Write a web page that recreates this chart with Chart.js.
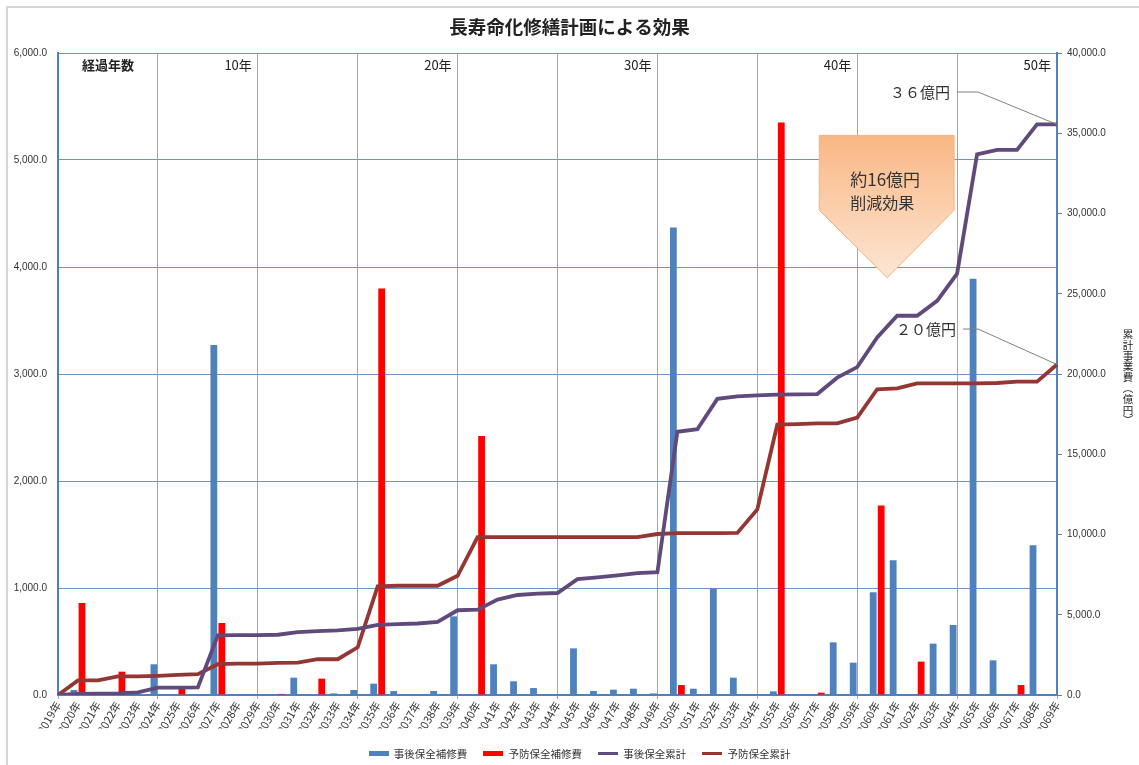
<!DOCTYPE html>
<html><head><meta charset="utf-8">
<script src="https://cdn.jsdelivr.net/npm/chart.js@4.4.0/dist/chart.umd.min.js"></script>
<style>html,body{margin:0;padding:0;background:#fff;}#wrap{width:1139px;height:765px;}</style>
</head><body><div id="wrap"><canvas id="c" width="1139" height="765"></canvas></div>
<script>
const categories = ['2019年','2020年','2021年','2022年','2023年','2024年','2025年','2026年','2027年','2028年',
'2029年','2030年','2031年','2032年','2033年','2034年','2035年','2036年','2037年','2038年',
'2039年','2040年','2041年','2042年','2043年','2044年','2045年','2046年','2047年','2048年',
'2049年','2050年','2051年','2052年','2053年','2054年','2055年','2056年','2057年','2058年',
'2059年','2060年','2061年','2062年','2063年','2064年','2065年','2066年','2067年','2068年','2069年'];

// 事後保全補修費 (left axis)
const afterRepair = [0,47,0,0,0,287,0,0,3270,0,
0,0,162,0,15,47,106,37,0,37,
735,0,287,128,65,0,436,37,50,59,
15,4370,59,995,162,0,34,0,0,492,
302,960,1260,0,480,654,3890,324,0,1400,0];

// 予防保全補修費 (left axis)
const preventRepair = [0,860,0,218,0,0,56,0,673,0,
0,10,0,153,0,0,3800,0,0,0,
0,2420,0,0,0,0,0,0,0,0,
0,93,0,0,0,0,5350,0,22,0,
0,1770,0,312,0,0,0,0,93,0,0];

// 事後保全累計 (right axis)
const afterCum = [0,62,82,103,165,454,454,475,3713,3734,
3734,3755,3920,3982,4023,4126,4373,4420,4456,4559,
5281,5322,5941,6230,6312,6354,7220,7323,7447,7590,
7653,16400,16560,18450,18600,18670,18710,18730,18750,19770,
20430,22280,23630,23630,24560,26250,33690,33960,33960,35550,35550];

// 予防保全累計 (right axis)
const preventCum = [0,908,908,1155,1155,1196,1258,1300,1918,1960,
1960,2000,2020,2228,2228,2970,6766,6808,6808,6808,
7427,9840,9840,9840,9840,9840,9840,9840,9840,9840,
10030,10080,10080,10080,10100,11560,16840,16880,16920,16920,
17290,19050,19110,19420,19420,19420,19420,19440,19520,19520,20590];

const seriesNames = ['事後保全補修費','予防保全補修費','事後保全累計','予防保全累計'];
const titleText = '長寿命化修繕計画による効果';
const rightAxisTitle = ['累','計','事','業','費','︵','億','円','︶'];
const periodLabels = ['経過年数','10年','20年','30年','40年','50年'];
const periodIndex = [2.5,10,20,30,40,50];
const calloutLines = ['約16億円','削減効果'];
const endLabels = ['３６億円','２０億円'];

const C_BLUE = '#4f81bd', C_RED = '#ff0000', C_PURPLE = '#604a7b', C_DRED = '#943634';
const JP = '"Noto Sans CJK JP", "Noto Sans", sans-serif';

function legendSwatch(color, h){
  const cv = document.createElement('canvas');
  cv.width = 20; cv.height = h;
  const g = cv.getContext('2d');
  g.fillStyle = color; g.fillRect(0,0,20,h);
  return cv;
}
const swatches = [legendSwatch(C_BLUE,5), legendSwatch(C_RED,5), legendSwatch(C_PURPLE,3), legendSwatch(C_DRED,3)];

const fmt = v => Number(v).toLocaleString('en-US',{minimumFractionDigits:1,maximumFractionDigits:1});

const overlay = {
  id:'overlay',
  afterLayout(chart){
    const lg = chart.legend;
    if (lg) { lg.left += 10; lg.right += 10; lg.top += 4; lg.bottom += 4; }
  },
  beforeDraw(chart){
    const ctx = chart.ctx;
    ctx.save();
    ctx.strokeStyle = '#d6d6d6'; ctx.lineWidth = 2;
    ctx.strokeRect(7,7,1200,900);
    ctx.restore();
  },
  afterDraw(chart){
    const {ctx, scales:{x, y, y2}} = chart;
    ctx.save();
    ctx.fillStyle = '#222';
    ctx.textBaseline = 'middle';
    periodLabels.forEach((t,i)=>{
      const py = y.getPixelForValue(5890);
      if (i === 0) {
        ctx.font = 'bold 13px ' + JP;
        ctx.textAlign = 'center';
        ctx.fillText(t, x.getPixelForValue(periodIndex[i]), py);
      } else {
        ctx.font = '13px ' + JP;
        ctx.textAlign = 'right';
        ctx.fillText(t, x.getPixelForValue(periodIndex[i] - 0.3), py);
      }
    });

    // callout arrow
    const xl = x.getPixelForValue(38.1), xr = x.getPixelForValue(44.85), xm = x.getPixelForValue(41.5);
    const yt = y.getPixelForValue(5230), ys = y.getPixelForValue(4530), yp = y.getPixelForValue(3900);
    const grad = ctx.createLinearGradient(0, yt, 0, yp);
    grad.addColorStop(0, '#f9b784');
    grad.addColorStop(1, '#fde6d4');
    ctx.beginPath();
    ctx.moveTo(xl, yt); ctx.lineTo(xr, yt); ctx.lineTo(xr, ys); ctx.lineTo(xm, yp); ctx.lineTo(xl, ys); ctx.closePath();
    ctx.fillStyle = grad; ctx.fill();
    ctx.strokeStyle = '#f5b27e'; ctx.lineWidth = 1; ctx.stroke();
    ctx.fillStyle = '#333';
    ctx.textAlign = 'left';
    ctx.font = '17px ' + JP;
    ctx.fillText(calloutLines[0], x.getPixelForValue(39.65), y.getPixelForValue(4813));
    ctx.font = '16px ' + JP;
    ctx.fillText(calloutLines[1], x.getPixelForValue(39.65), y.getPixelForValue(4598));

    // end labels with leader lines
    const ends = [[37570, afterCum[afterCum.length-1], 44.64], [22800, preventCum[preventCum.length-1], 44.95]];
    ends.forEach((e,i)=>{
      const ty = y2.getPixelForValue(e[0]);
      ctx.font = '15px ' + JP;
      ctx.fillStyle = '#333';
      ctx.textAlign = 'right';
      ctx.fillText(endLabels[i], x.getPixelForValue(e[2]), ty);
      ctx.beginPath();
      ctx.moveTo(x.getPixelForValue(e[2] + 0.35), ty);
      ctx.lineTo(x.getPixelForValue(46.05), ty);
      ctx.lineTo(x.getPixelForValue(50), y2.getPixelForValue(e[1]));
      ctx.strokeStyle = '#808080'; ctx.lineWidth = 1; ctx.stroke();
    });

    // right axis vertical title
    ctx.font = '10.5px ' + JP;
    ctx.fillStyle = '#222';
    ctx.textAlign = 'center';
    const tx = y2.right - 11;
    const tyStart = (y2.top + y2.bottom)/2 - 40;
    rightAxisTitle.forEach((ch,i)=>{
      ctx.fillText(ch, tx, tyStart + i*10.8);
    });
    ctx.restore();
  }
};

new Chart(document.getElementById('c'), {
  data: {
    labels: categories,
    datasets: [
      {type:'bar', label:seriesNames[0], data:afterRepair, backgroundColor:C_BLUE, yAxisID:'y', order:2, categoryPercentage:0.8, barPercentage:0.85},
      {type:'bar', label:seriesNames[1], data:preventRepair, backgroundColor:C_RED, yAxisID:'y', order:2, categoryPercentage:0.8, barPercentage:0.85},
      {type:'line', label:seriesNames[2], data:afterCum, borderColor:C_PURPLE, backgroundColor:C_PURPLE, borderWidth:3.8, pointRadius:0, tension:0, yAxisID:'y2', order:1},
      {type:'line', label:seriesNames[3], data:preventCum, borderColor:C_DRED, backgroundColor:C_DRED, borderWidth:3.8, pointRadius:0, tension:0, yAxisID:'y2', order:1}
    ]
  },
  options: {
    responsive:false,
    animation:false,
    layout:{padding:{left:0,right:0,top:0,bottom:0}},
    plugins:{
      title:{display:true, text:titleText, color:'#222', font:{family:JP, size:18.5, weight:'bold'}, padding:{top:16,bottom:14.8}},
      legend:{
        position:'bottom',
        labels:{
          usePointStyle:true, pointStyleWidth:20, boxHeight:8,
          font:{family:JP, size:10.5}, color:'#333', padding:16,
          sort:(a,b)=>a.datasetIndex-b.datasetIndex,
          generateLabels:(chart)=>{
            const items = Chart.defaults.plugins.legend.labels.generateLabels(chart);
            items.forEach(it=>{ it.pointStyle = swatches[it.datasetIndex]; });
            return items;
          }
        }
      },
      tooltip:{enabled:false}
    },
    scales:{
      x:{
        offset:false,
        grid:{
          offset:false,
          color:(c)=> (c.index % 5 === 0 ? '#a6a6a6' : 'rgba(0,0,0,0)'),
          lineWidth:1, drawTicks:true, tickLength:4,
          tickColor:(c)=> (c.index % 5 === 0 ? '#a6a6a6' : 'rgba(0,0,0,0)')
        },
        border:{color:C_BLUE, width:2},
        ticks:{autoSkip:false, minRotation:60, maxRotation:60, color:'#333', font:{family:JP, size:11}, padding:0},
        afterFit:(s)=>{ const lg = s.chart.legend; s.height = s.chart.height - 695 - (lg ? lg.height : 0); }
      },
      y:{
        position:'left', min:0, max:6000,
        ticks:{stepSize:1000, color:'#333', font:{family:'"Liberation Sans", Arial, sans-serif', size:10}, padding:11, callback:(v)=>fmt(v)},
        grid:{color:'#6f93c9', lineWidth:1, drawTicks:false},
        border:{color:C_BLUE, width:2},
        afterFit:(s)=>{ s.width = 58; }
      },
      y2:{
        position:'right', min:0, max:40000,
        ticks:{stepSize:5000, color:'#333', font:{family:'"Liberation Sans", Arial, sans-serif', size:10}, padding:5, callback:(v)=>fmt(v)},
        grid:{drawOnChartArea:false, drawTicks:true, tickLength:5, color:C_BLUE},
        border:{color:C_BLUE, width:2},
        afterFit:(s)=>{ s.width = 82; }
      }
    }
  },
  plugins:[overlay]
});
</script>
</body></html>
